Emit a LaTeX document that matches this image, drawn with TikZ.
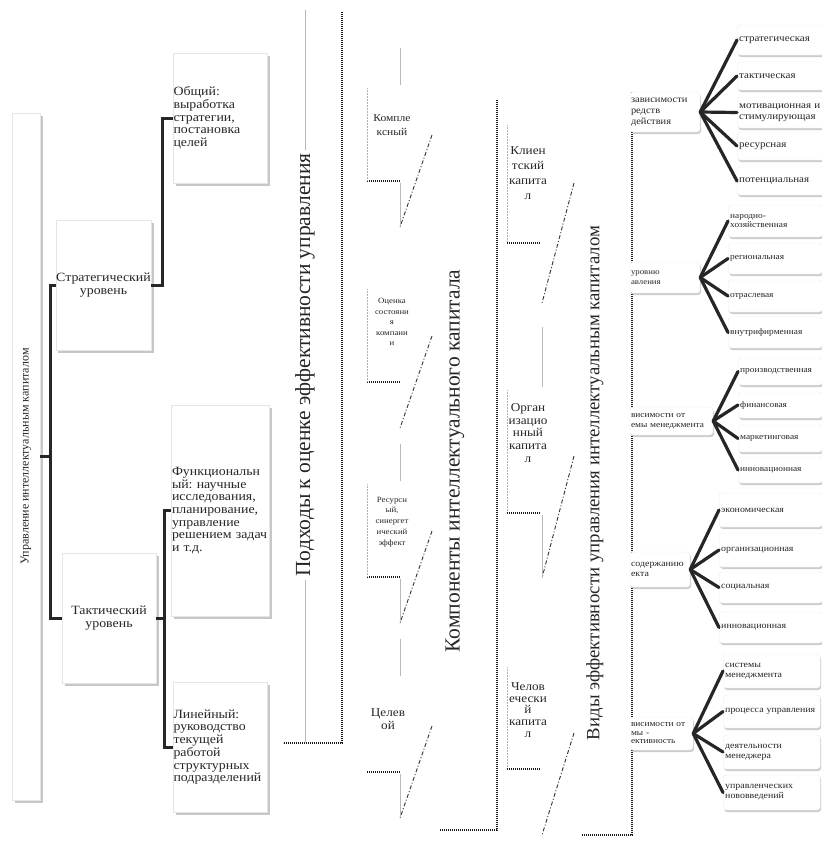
\documentclass[tikz,border=0pt]{standalone}
\usepackage{fontspec}
\setmainfont{Liberation Serif}[FakeStretch=1.1]
\newfontfamily\uprightserif{Liberation Serif}
\usetikzlibrary{shadows}
\frenchspacing

\tikzset{
  lvlbox/.style={draw=gray!20, fill=white, inner sep=0.5pt,
    drop shadow={shadow xshift=2.5pt, shadow yshift=-2.5pt, fill=gray!80, opacity=.55}},
  catbox/.style={draw=gray!15, fill=white, rounded corners=3pt, inner sep=1pt,
    drop shadow={shadow xshift=1pt, shadow yshift=-2pt, fill=gray!80, opacity=.5}},
  leaf/.style={catbox, anchor=west, align=left, inner sep=2pt},
  boxfont/.style={font=\fontsize{12.6}{12.7}\selectfont},
  tree/.style={line width=3pt, black!85},
  fan/.style={line width=3.2pt, black!85, line cap=round},
  bracket/.style={line width=1.8pt, black!90, dash pattern=on 1.3pt off 0.7pt},
  hair/.style={line width=0.4pt, gray!55},
  hairdot/.style={line width=0.5pt, densely dotted, gray!60},
  slash/.style={line width=0.9pt, black!80, dash pattern=on 4pt off 2pt on 1pt off 2pt},
  biglabel/.style={rotate=90, font=\uprightserif\fontsize{21.5}{24}\selectfont},
}

\begin{document}
\begin{tikzpicture}[x=1pt, y=-1pt, text=black!85]
\useasboundingbox (0,0) rectangle (822,841);

% management levels
\node[lvlbox, minimum width=28pt, minimum height=687pt] (root) at (26,456.5) {};
\node[rotate=90, font=\uprightserif\fontsize{12}{13}\selectfont] (rootlbl) at (root.center) {Управление интеллектуальным капиталом};
\node[lvlbox, boxfont, minimum width=95pt, minimum height=130pt, align=center] (strat) at (103.5,285) {Стратегический\\уровень};
\node[lvlbox, boxfont, minimum width=94pt, minimum height=130pt, align=center] (tact) at (109,618) {Тактический\\уровень};
\node[lvlbox, boxfont, minimum width=94pt, minimum height=130pt, text width=93pt, align=left] (obsh) at (220,118) {Общий:\\выработка\\стратегии,\\постановка\\целей};
\node[lvlbox, boxfont, minimum width=95pt, minimum height=211pt, text width=97pt, align=left] (func) at (220.5,510.5) {Функциональн\\ый: научные\\исследования,\\планирование,\\управление\\решением задач\\и т.д.};
\node[lvlbox, boxfont, minimum width=94pt, minimum height=130pt, text width=93pt, align=left] (lin) at (220,747) {Линейный:\\руководство\\текущей\\работой\\структурных\\подразделений};

\draw[tree] (root.east) -- ++(10,0) |- (strat.west);
\draw[tree] (root.east) -- ++(10,0) |- (tact.west);
\draw[tree] (strat.east) -- ++(11,0) |- (obsh.west);
\draw[tree] (tact.east) -- ++(8,0) |- (func.west);
\draw[tree] (tact.east) -- ++(8,0) |- (lin.west);

% approaches
\node[biglabel] (podhody) at (305,365) {Подходы к оценке эффективности управления};
\draw[hair] (305,10) -- (podhody.east);
\draw[hair] (podhody.west) -- (305,742);
\draw[bracket] (342,12) -- (342,743) -- (283,743);

\foreach \yb in {181,382,577,772}
  {\draw[bracket] (367,\yb) -- (400,\yb);
   \draw[slash] (432,\yb-46) -- (400,\yb+46);}
\foreach \yb in {181,382,577}
  \draw[hairdot] (367,\yb-93) -- (367,\yb);
\foreach \yb in {181,577,772}
  {\draw[hair] (400,\yb-133) -- (400,\yb-96);
   \draw[hair] (400,\yb+2) -- (400,\yb+44);}

\node[font=\fontsize{10.5}{14}\selectfont, align=center] (kompl) at (392,125) {Компле\\ксный};
\node[font=\fontsize{8}{10.5}\selectfont, align=center] (ocenka) at (392,322) {Оценка\\состояни\\я\\компани\\и};
\node[font=\fontsize{8}{10.8}\selectfont, align=center] (resurs) at (392,522) {Ресурсн\\ый,\\синергет\\ический\\эффект};
\node[font=\fontsize{12}{13}\selectfont, align=center] (celev) at (388,719) {Целев\\ой};

% components
\node[biglabel] (komp) at (455,461) {Компоненты интеллектуального капитала};
\draw[bracket] (497,100) -- (497,830) -- (440,830);

\foreach \ya/\yb/\yc/\yd in {125/243/183/303, 390/513/456/578, 667/769/733/835}
  {\draw[hairdot] (507,\ya) -- (507,\yb);
   \draw[bracket] (507,\yb) -- (540,\yb);
   \draw[slash] (574,\yc) -- (542,\yd);}
\draw[hair] (542,327) -- (542,387);
\draw[hair] (542,515) -- (542,578);

\node[font=\fontsize{12}{15}\selectfont, align=center] (klient) at (528,173) {Клиен\\тский\\капита\\л};
\node[font=\fontsize{12}{12.8}\selectfont, align=center] (organ) at (528,433) {Орган\\изацио\\нный\\капита\\л};
\node[font=\fontsize{12}{11.6}\selectfont, align=center] (chelov) at (528,710) {Челов\\ечески\\й\\капита\\л};

% kinds of efficiency
\node[biglabel, font=\uprightserif\fontsize{18.8}{22}\selectfont] (vidy) at (595,483) {Виды эффективности управления интеллектуальным капиталом};
\draw[bracket] (632,92) -- (632,835) -- (582,835);

\node[catbox, minimum width=70pt, minimum height=40pt, text width=68pt, align=left, font=\fontsize{9.5}{11}\selectfont] (c1) at (665,112) {зависимости\\редств\\действия};
\node[catbox, minimum width=70pt, minimum height=31pt, text width=68pt, align=left, font=\fontsize{8}{9.5}\selectfont] (c2) at (665,277.5) {уровню\\авления};
\node[catbox, minimum width=83pt, minimum height=28pt, text width=81pt, align=left, font=\fontsize{8.5}{10}\selectfont] (c3) at (671.5,421) {висимости от\\емы менеджмента};
\node[catbox, minimum width=60pt, minimum height=35pt, text width=58pt, align=left, font=\fontsize{9}{9.5}\selectfont] (c4) at (660,569.5) {содержанию\\екта};
\node[catbox, minimum width=63pt, minimum height=33pt, text width=61pt, align=left, font=\fontsize{8.5}{8.5}\selectfont] (c5) at (661.5,733.5) {висимости от\\мы -\\ективность};

\foreach \nm/\yc/\hh/\txt in {l11/40/30/стратегическая, l12/76/28/тактическая, l13/112.5/31/{мотивационная и\\стимулирующая}, l14/146/28/ресурсная, l15/181/28/потенциальная}
  {\node[leaf, minimum width=90pt, minimum height=\hh pt, text width=92pt, font=\fontsize{10}{11}\selectfont] (\nm) at (737,\yc) {\txt};
   \draw[fan] (c1.east) -- (\nm.west);}
\foreach \nm/\yc/\hh/\txt in {l21/221/32/{народно-\\хозяйственная}, l22/258.5/31/региональная, l23/296/32/отраслевая, l24/332.5/31/внутрифирменная}
  {\node[leaf, minimum width=94pt, minimum height=\hh pt, text width=90pt, font=\fontsize{8.5}{9.5}\selectfont] (\nm) at (728,\yc) {\txt};
   \draw[fan] (c2.east) -- (\nm.west);}
\foreach \nm/\yc/\hh/\txt in {l31/371.5/27/производственная, l32/405/26/финансовая, l33/438.5/27/маркетинговая, l34/470/26/инновационная}
  {\node[leaf, minimum width=84pt, minimum height=\hh pt, text width=80pt, font=\fontsize{8.5}{10}\selectfont] (\nm) at (738,\yc) {\txt};
   \draw[fan] (c3.east) -- (\nm.west);}
\foreach \nm/\yc/\hh/\txt in {l41/510/34/экономическая, l42/550/34/организационная, l43/587.5/31/социальная, l44/627.5/31/инновационная}
  {\node[leaf, minimum width=103pt, minimum height=\hh pt, text width=99pt, font=\fontsize{9}{10}\selectfont] (\nm) at (719,\yc) {\txt};
   \draw[fan] (c4.east) -- (\nm.west);}
\foreach \nm/\yc/\hh/\txt in {l51/671/34/{системы\\менеджмента}, l52/711.5/33/процесса управления, l53/752/34/{деятельности\\менеджера}, l54/792.5/35/{управленческих\\нововведений}}
  {\node[leaf, minimum width=97pt, minimum height=\hh pt, text width=93pt, font=\fontsize{9}{10}\selectfont] (\nm) at (723,\yc) {\txt};
   \draw[fan] (c5.east) -- (\nm.west);}
\end{tikzpicture}
\end{document}
